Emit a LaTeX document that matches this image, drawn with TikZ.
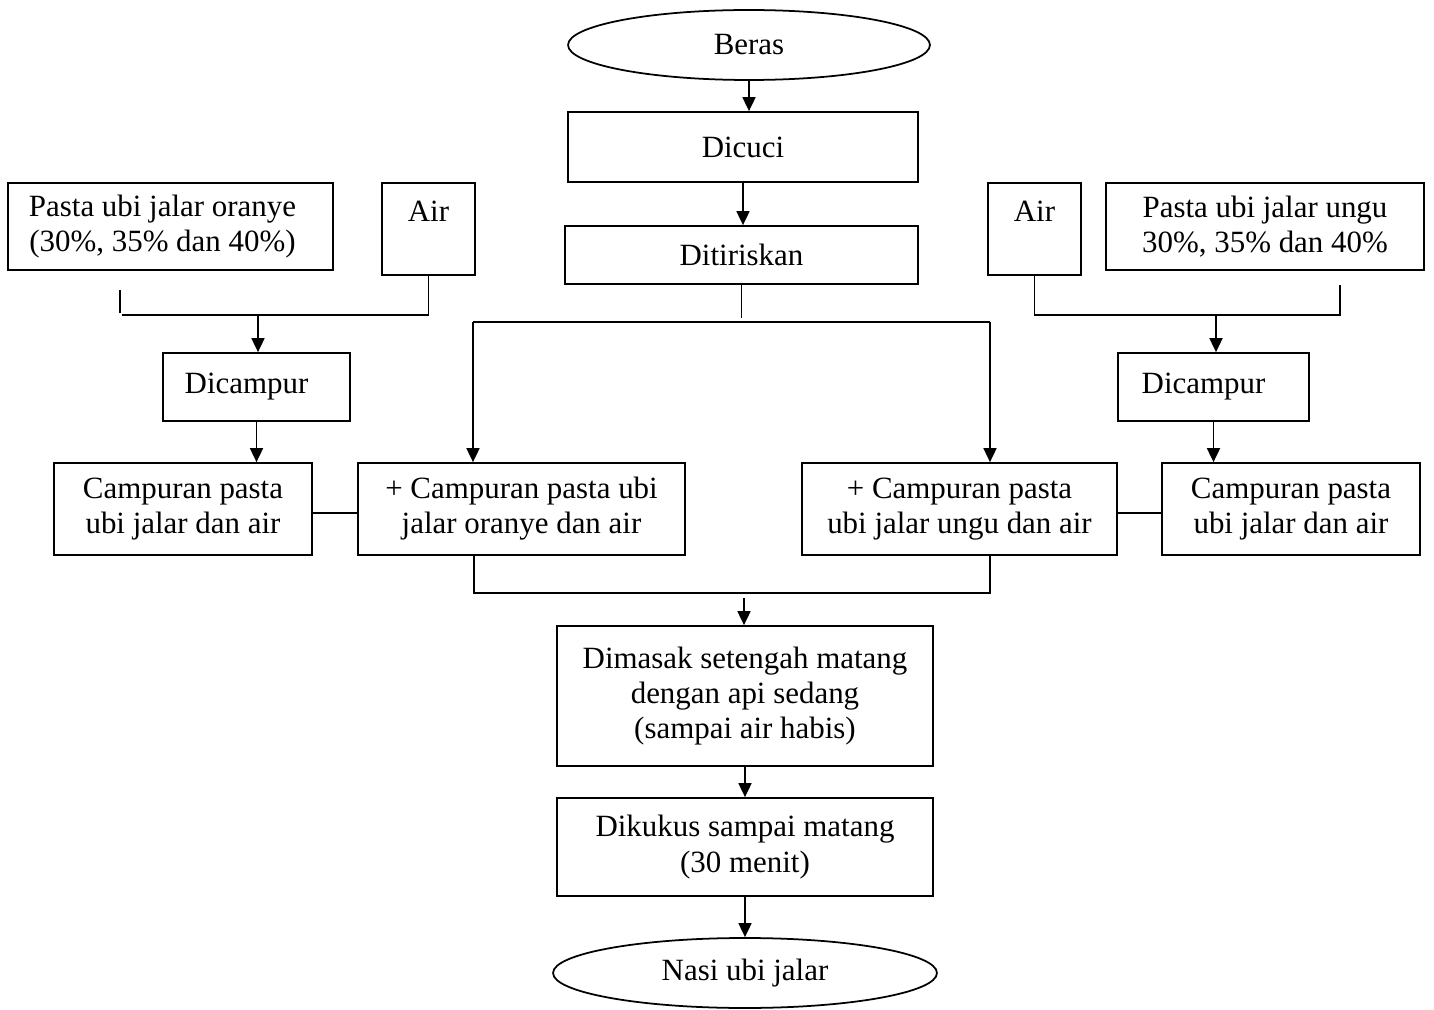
\documentclass[tikz,border=0pt]{standalone}
\usepackage{fontspec}
\setmainfont{Liberation Serif}
\usepackage{tikz}
\usetikzlibrary{shapes,arrows.meta}

\begin{document}
\begin{tikzpicture}[x=0.02cm,y=-0.02cm,line width=1pt,
    every node/.style={font=\fontsize{17.6}{20}\selectfont,align=center,inner sep=0pt},
    box/.style={draw,rectangle,line width=1pt},
    oval/.style={draw,ellipse,line width=1pt},
    flow/.style={-{Triangle[length=0.28cm,width=0.26cm]}}]
    \useasboundingbox (0,0) rectangle (1434,1010);

    \node[oval,minimum width=7.24cm,minimum height=1.4cm] (beras) at (749,45) {Beras};
    \node[box,minimum width=7cm,minimum height=1.4cm] (dicuci) at (743,147) {Dicuci};
    \node[box,minimum width=7.06cm,minimum height=1.16cm] (ditiriskan) at (741.5,255) {Ditiriskan};

    \node[box,minimum width=6.5cm,minimum height=1.74cm] (pastaO) at (170.5,226.5) {Pasta ubi jalar oranye\hspace*{0.32cm}\\(30\%, 35\% dan 40\%)\hspace*{0.32cm}};
    \node[box,minimum width=1.86cm,minimum height=1.84cm] (airO) at (428.5,229) {Air\\\mbox{}};
    \node[box,minimum width=3.74cm,minimum height=1.36cm] (campurO) at (256.5,387) {Dicampur\hspace*{0.4cm}};
    \node[box,minimum width=5.16cm,minimum height=1.84cm] (campuranO) at (183,509) {Campuran pasta\\ubi jalar dan air};
    \node[box,minimum width=6.54cm,minimum height=1.84cm] (plusO) at (521.5,509) {+ Campuran pasta ubi\\jalar oranye dan air};

    \node[box,minimum width=1.86cm,minimum height=1.84cm] (airU) at (1034.5,229) {Air\\\mbox{}};
    \node[box,minimum width=6.36cm,minimum height=1.74cm] (pastaU) at (1265,226.5) {Pasta ubi jalar ungu\\30\%, 35\% dan 40\%};
    \node[box,minimum width=3.82cm,minimum height=1.36cm] (campurU) at (1213.5,387) {Dicampur\hspace*{0.4cm}};
    \node[box,minimum width=5.16cm,minimum height=1.84cm] (campuranU) at (1291,509) {Campuran pasta\\ubi jalar dan air};
    \node[box,minimum width=6.3cm,minimum height=1.84cm] (plusU) at (959.5,509) {+ Campuran pasta\\ubi jalar ungu dan air};

    \node[box,minimum width=7.52cm,minimum height=2.8cm] (dimasak) at (745,696) {Dimasak setengah matang\\dengan api sedang\\(sampai air habis)};
    \node[box,minimum width=7.52cm,minimum height=1.96cm] (dikukus) at (745,847) {Dikukus sampai matang\\(30 menit)};
    \node[oval,minimum width=7.68cm,minimum height=1.4cm] (nasi) at (745,973) {Nasi ubi jalar};

    \coordinate (bL) at (473,322);
    \coordinate (bR) at (990,322);
    \coordinate (jO) at (258,315);
    \coordinate (jU) at (1216,315);
    \coordinate (mL) at (474,593);
    \coordinate (mR) at (990,593);
    \coordinate (mC) at (744,598);

    \draw[flow] (beras.south) -- (beras.south |- dicuci.north);
    \draw[flow] (dicuci.south) -- (dicuci.south |- ditiriskan.north);
    \draw (ditiriskan.south) -- ++(0,33);
    \draw (bL) -- (bR);
    \draw[flow] (bL) -- (bL |- plusO.north);
    \draw[flow] (bR) -- (bR |- plusU.north);

    \draw (120,290) -- (120,313);
    \draw (122,315) -| (airO.south);
    \draw[flow] (jO) -- (jO |- campurO.north);
    \draw[flow] (campurO.south) -- (campurO.south |- campuranO.north);
    \draw (campuranO.east |- 0,513) -- (plusO.west |- 0,513);

    \draw (airU.south) |- (1340,315) -- (1340,285);
    \draw[flow] (jU) -- (jU |- campurU.north);
    \draw[flow] (campurU.south) -- (campurU.south |- campuranU.north);
    \draw (plusU.east |- 0,513) -- (campuranU.west |- 0,513);

    \draw (mL |- plusO.south) -- (mL) -- (mR) -- (mR |- plusU.south);
    \draw[flow] (mC) -- (mC |- dimasak.north);
    \draw[flow] (dimasak.south) -- (dikukus.north);
    \draw[flow] (dikukus.south) -- (nasi.north);
\end{tikzpicture}
\end{document}
